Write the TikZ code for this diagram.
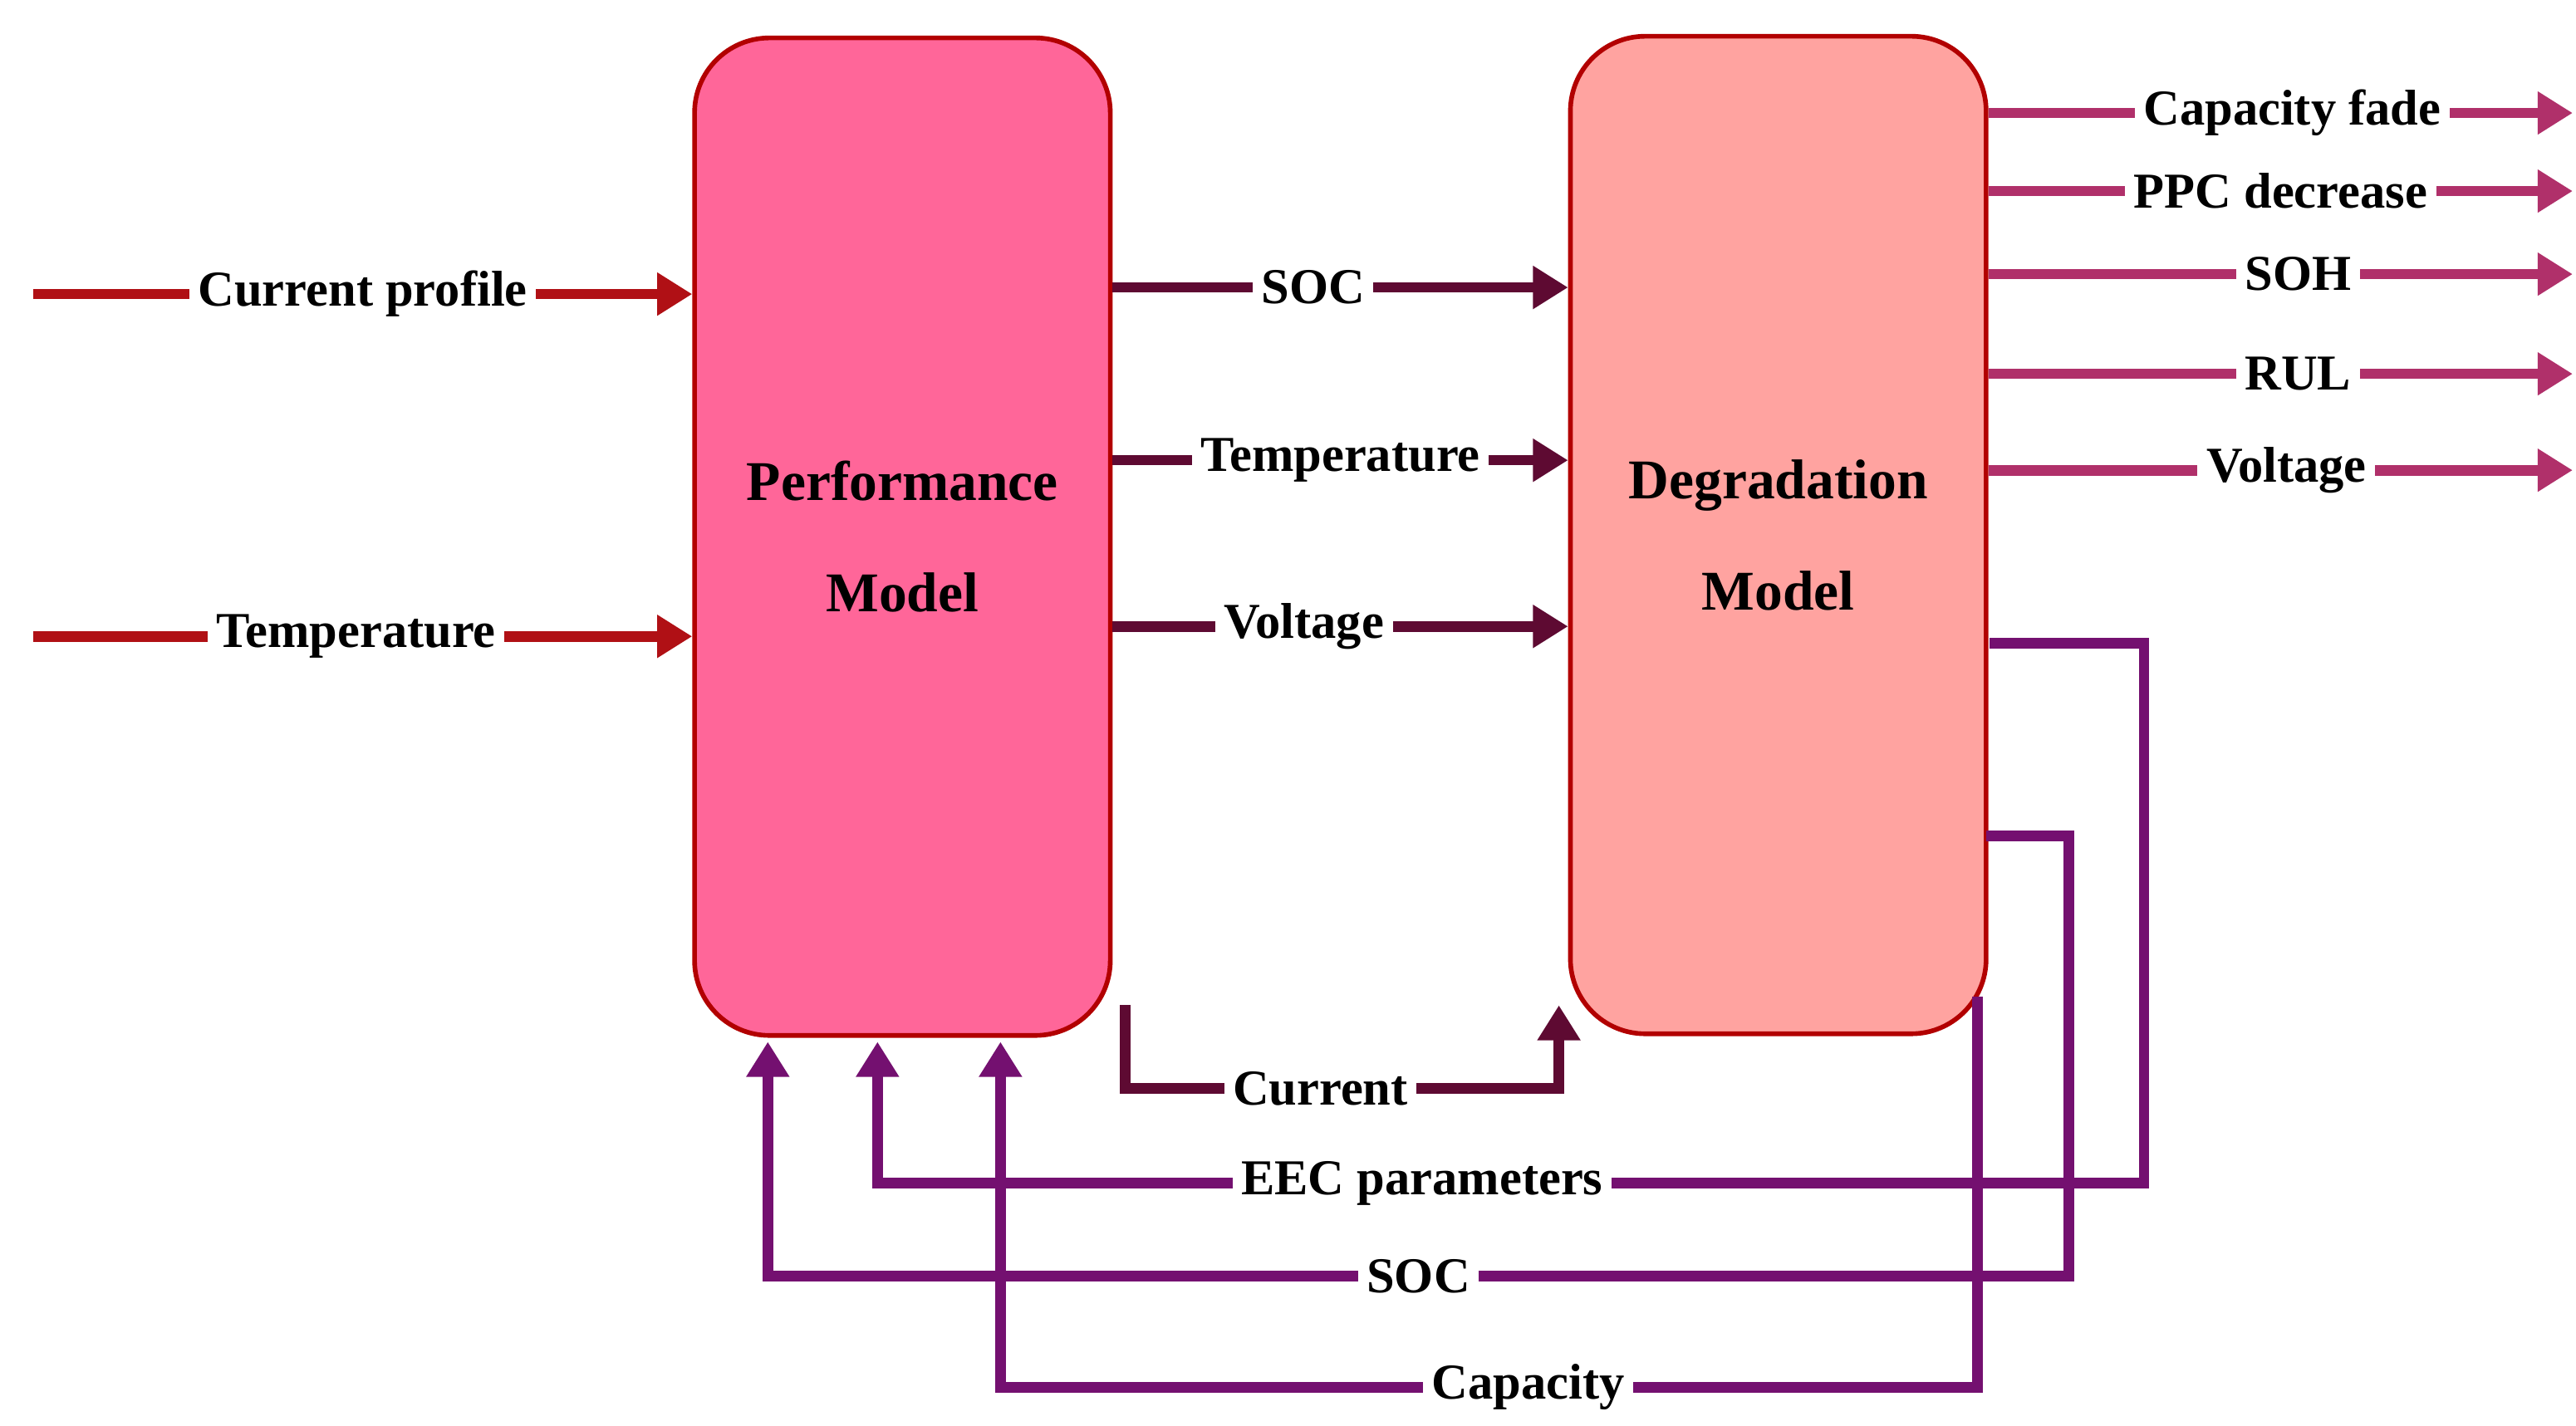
\documentclass[tikz,border=0pt]{standalone}
\usepackage{fontspec}
\setmainfont{Liberation Serif}
\usetikzlibrary{arrows.meta,calc}
\definecolor{perf}{HTML}{FF6699}
\definecolor{degr}{HTML}{FFA3A0}
\definecolor{inred}{HTML}{B01015}
\definecolor{mid}{HTML}{5E0A32}
\definecolor{outc}{HTML}{B0306A}
\definecolor{fb}{HTML}{741070}
\begin{document}
\begin{tikzpicture}[x=0.01cm,y=-0.01cm,
  box/.style={draw=red!70!black,line width=0.8pt,rounded corners=0.45cm,minimum width=2.5cm,minimum height=6.0cm,font=\bfseries\fontsize{9.6}{15}\selectfont,align=center},
  lbl/.style={fill=white,text=black,inner sep=1.5pt,font=\bfseries\fontsize{8.6}{9}\selectfont},
  arr/.style={line width=1.8pt,-{Triangle[length=6pt,width=7pt]}},
  ln/.style={line width=1.8pt}]
\useasboundingbox (0,0) rectangle (1550,858);
\node[box,fill=perf] (P) at (543,323) {Performance\\[4pt]Model};
\node[box,fill=degr] (D) at (1070,322) {Degradation\\[4pt]Model};
% inputs
\coordinate (i1) at (20,177); \coordinate (i2) at (20,383);
\draw[arr,inred] (i1) -- (i1 -| P.west) node[lbl,pos=0.5] {Current profile};
\draw[arr,inred] (i2) -- (i2 -| P.west) node[lbl,pos=0.49] {Temperature};
% middle
\foreach \y/\t/\p in {173/SOC/0.44,277/Temperature/0.5,377/Voltage/0.42}{
  \coordinate (m) at (0,\y);
  \draw[arr,mid] (m -| P.east) -- (m -| D.west) node[lbl,pos=\p] {\t};
}
% current
\coordinate (c1) at (677,605); \coordinate (c2) at (938,605);
\draw[arr,mid] (c1) -- (677,655) -- node[lbl,pos=0.45] {Current} (938,655) -- (c2);
% outputs
\foreach \y/\t/\p in {68/Capacity fade/0.52,115/PPC decrease/0.5,165/SOH/0.53,225/RUL/0.53,283/Voltage/0.51}{
  \coordinate (o) at (1548,\y);
  \draw[arr,outc] (o -| D.east) -- (o) node[lbl,pos=\p] {\t};
}
% feedback
\draw[arr,fb] (1197,387) -- (1290,387) -- (1290,712) -- node[lbl,pos=0.57] {EEC parameters} (528,712) -- (528,627);
\draw[arr,fb] (1195,503) -- (1245,503) -- (1245,768) -- node[lbl,pos=0.5] {SOC} (462,768) -- (462,627);
\draw[arr,fb] (1190,600) -- (1190,835) -- node[lbl,pos=0.46] {Capacity} (602,835) -- (602,627);
\end{tikzpicture}
\end{document}
